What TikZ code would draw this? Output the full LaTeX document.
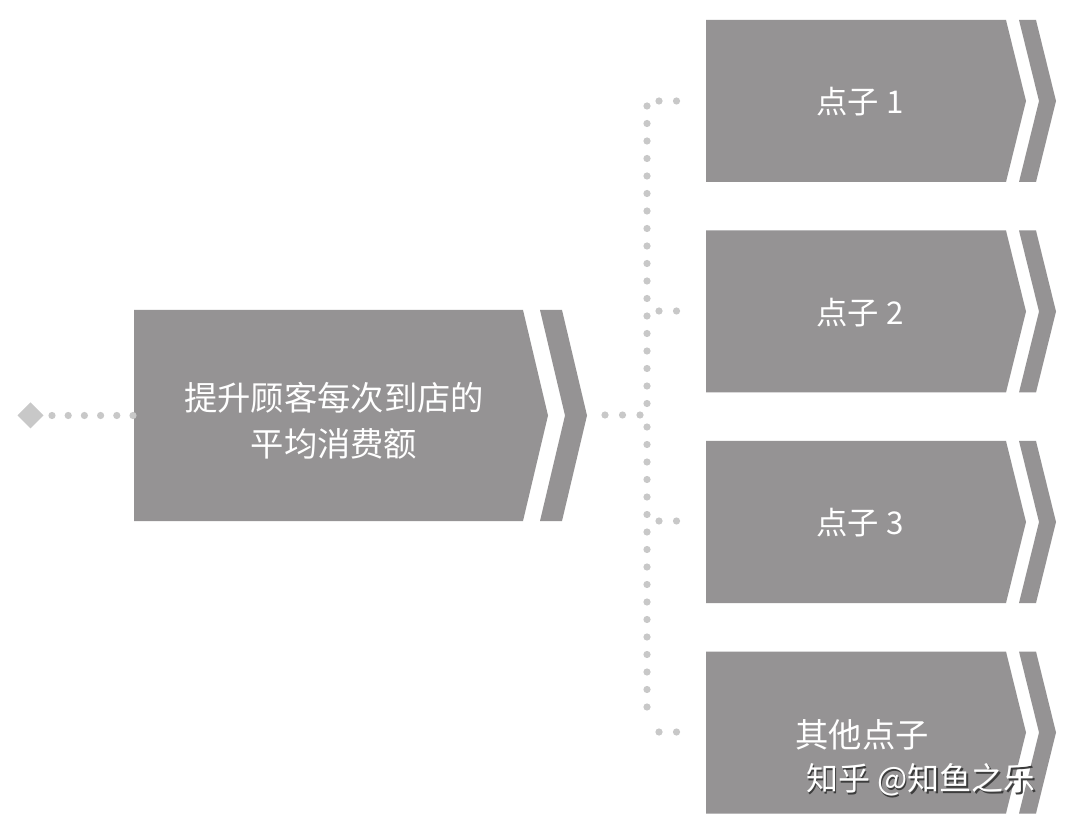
\documentclass[tikz,border=0pt]{standalone}
\usepackage{fontspec}
\newfontfamily\cjk{Noto Sans CJK SC}
\definecolor{boxgray}{RGB}{149,147,148}
\definecolor{dotgray}{RGB}{200,200,200}
\definecolor{shadowgray}{RGB}{60,60,60}
\begin{document}
\begin{tikzpicture}[x=0.75pt,y=-0.75pt,
  chev/.style={fill=boxgray,draw=none},
  dotline/.style={draw=dotgray,line width=5.4pt,line cap=round,dash pattern=on 0pt off 13.125pt},
  dotlineL/.style={draw=dotgray,line width=5.4pt,line cap=round,dash pattern=on 0pt off 12.15pt},
  lbl/.style={text=white,font=\cjk\fontsize{25}{34.5}\selectfont,align=center,inner sep=0pt},
  lblS/.style={text=white,font=\cjk\fontsize{23.5}{28}\selectfont,align=center,inner sep=0pt},
  wm/.style={font=\cjk\fontsize{24}{30}\selectfont,inner sep=0pt}
]
\useasboundingbox (0,0) rectangle (1065,827);
\fill[white] (0,0) rectangle (1065,827);

% main chevron box
\fill[chev] (134,310) -- (523,310) -- (548,415.5) -- (523,521) -- (134,521) -- cycle;
\fill[chev] (540,310) -- (562,310) -- (587,415.5) -- (562,521) -- (540,521) -- (565,415.5) -- cycle;
\node[lbl] (main) at (334,421) {提升顾客每次到店的\\平均消费额};

% right chevron boxes
\foreach \T/\name/\txt in {20/p1/{点子 1},230.5/p2/{点子 2},441/p3/{点子 3}}{
  \fill[chev] (706,\T) -- (1006,\T) -- (1026,\T+81) -- (1006,\T+162) -- (706,\T+162) -- cycle;
  \fill[chev] (1019,\T) -- (1036,\T) -- (1056,\T+81) -- (1036,\T+162) -- (1019,\T+162) -- (1039,\T+81) -- cycle;
  \node[lblS] (\name) at (860,\T+82) {\txt};
}
\fill[chev] (706,651.5) -- (1006,651.5) -- (1026,732.5) -- (1006,813.5) -- (706,813.5) -- cycle;
\fill[chev] (1019,651.5) -- (1036,651.5) -- (1056,732.5) -- (1036,813.5) -- (1019,813.5) -- (1039,732.5) -- cycle;
\node[lbl] (p4) at (862,735) {其他点子};

% watermark
\node[wm,text=shadowgray] (wms) at (922.5,781.5) {知乎 @知鱼之乐};
\node[wm,text=white] (wmt) at (921,780) {知乎 @知鱼之乐};

% start diamond
\fill[dotgray] (17.5,415.5) -- (30.5,402.5) -- (43.5,415.5) -- (30.5,428.5) -- cycle;
\coordinate (d0) at (52,415.5);
\coordinate (d1) at (133.5,415.5);
\draw[dotlineL] (d0) -- (d1);

% distribution connectors
\coordinate (m0) at (605,415);
\coordinate (m1) at (640,415);
\draw[dotline] (m0) -- (m1);
\coordinate (v0) at (647,106);
\coordinate (v1) at (647,404);
\coordinate (v2) at (647,427);
\coordinate (v3) at (647,724);
\draw[dotline] (v0) -- (v1);
\draw[dotline] (v2) -- (v3);
\foreach \y/\n in {101/a,311/b,521/c,732/d}{
  \coordinate (h\n0) at (659,\y);
  \coordinate (h\n1) at (694,\y);
  \draw[dotline] (h\n0) -- (h\n1);
}
\end{tikzpicture}
\end{document}
